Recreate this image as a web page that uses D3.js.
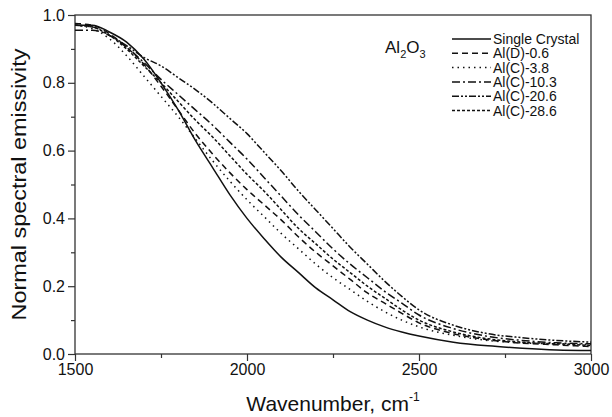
<!DOCTYPE html>
<html>
<head>
<meta charset="utf-8">
<script src="https://cdn.jsdelivr.net/npm/d3@7"></script>
<style>
  body { margin: 0; background: #fff; }
  svg { font-family: "Liberation Sans", Arial, sans-serif; }
</style>
</head>
<body>
<svg id="plot"></svg>
<script>
var wavenumber = [1500, 1550, 1600, 1650, 1700, 1750, 1800, 1850, 1900, 1950, 2000, 2050, 2100, 2150,
                  2200, 2250, 2300, 2350, 2400, 2450, 2500, 2600, 2700, 2800, 2900, 3000];

var singleCrystal = [0.97, 0.97, 0.95, 0.92, 0.87, 0.80, 0.72, 0.63, 0.55, 0.47, 0.40, 0.34, 0.285, 0.24,
                     0.195, 0.16, 0.125, 0.10, 0.08, 0.065, 0.053, 0.035, 0.024, 0.017, 0.012, 0.01];
var alD06 = [0.975, 0.97, 0.945, 0.905, 0.855, 0.79, 0.72, 0.65, 0.59, 0.535, 0.485, 0.44, 0.395, 0.345,
             0.30, 0.26, 0.22, 0.18, 0.15, 0.12, 0.092, 0.06, 0.042, 0.032, 0.027, 0.022];
var alC38 = [0.97, 0.96, 0.93, 0.88, 0.82, 0.76, 0.70, 0.635, 0.57, 0.51, 0.455, 0.405, 0.355, 0.31,
             0.265, 0.225, 0.19, 0.155, 0.125, 0.10, 0.08, 0.055, 0.04, 0.033, 0.03, 0.028];
var alC103 = [0.955, 0.955, 0.94, 0.905, 0.86, 0.81, 0.765, 0.72, 0.675, 0.625, 0.575, 0.52, 0.465, 0.41,
              0.36, 0.31, 0.265, 0.225, 0.185, 0.15, 0.115, 0.075, 0.052, 0.04, 0.033, 0.03];
var alC206 = [0.97, 0.965, 0.94, 0.91, 0.875, 0.85, 0.815, 0.78, 0.74, 0.695, 0.65, 0.595, 0.54, 0.48,
              0.425, 0.37, 0.315, 0.265, 0.215, 0.17, 0.13, 0.085, 0.06, 0.048, 0.04, 0.035];
var alC286 = [0.97, 0.965, 0.94, 0.90, 0.85, 0.80, 0.745, 0.69, 0.64, 0.585, 0.53, 0.48, 0.425, 0.37,
              0.325, 0.28, 0.24, 0.20, 0.165, 0.13, 0.10, 0.065, 0.045, 0.035, 0.03, 0.025];

var seriesNames = ["Single Crystal", "Al(D)-0.6", "Al(C)-3.8", "Al(C)-10.3", "Al(C)-20.6", "Al(C)-28.6"];
var seriesValues = [singleCrystal, alD06, alC38, alC103, alC206, alC286];
var dashes = ["none", "6,4", "1.5,4", "8,3,2,3", "7,2,2,2,2,2", "3,2"];

var xTicks = [1500, 2000, 2500, 3000];
var yTicks = [0.0, 0.2, 0.4, 0.6, 0.8, 1.0];

var width = 612, height = 417
var margins = {left: 75, right: 21, top: 15, bottom: 63}
var innerWidth = width - margins.left - margins.right
var innerHeight = height - margins.top - margins.bottom

var svg = d3.select("svg#plot")
            .attr("width", width)
            .attr("height", height)

var inner = svg.append("g")
               .attr("transform", "translate(" + margins.left + "," + margins.top + ")")

var xScale = d3.scaleLinear().domain([1500, 3000]).range([0, innerWidth]),
    yScale = d3.scaleLinear().domain([0, 1]).range([innerHeight, 0]);

// minor ticks
inner.append("g")
     .attr("transform", "translate(0," + innerHeight + ")")
     .call(d3.axisBottom(xScale).tickValues([1750, 2250, 2750]).tickSize(4).tickFormat(""))
inner.append("g")
     .call(d3.axisLeft(yScale).tickValues([0.1, 0.3, 0.5, 0.7, 0.9]).tickSize(4).tickFormat(""))

var xAxis = inner.append("g")
     .attr("transform", "translate(0," + innerHeight + ")")
     .call(d3.axisBottom(xScale).tickValues(xTicks).tickSize(7).tickPadding(3).tickFormat(d3.format("d")))
xAxis.selectAll("text").attr("font-size", "16px").attr("fill", "#111")

var yAxis = inner.append("g")
     .call(d3.axisLeft(yScale).tickValues(yTicks).tickSize(7).tickPadding(3).tickFormat(d3.format(".1f")))
yAxis.selectAll("text").attr("font-size", "16px").attr("fill", "#111")

inner.selectAll(".domain").remove()
inner.selectAll(".tick line").attr("stroke", "#333").attr("stroke-width", 1.2)

// frame
inner.append("rect")
     .attr("width", innerWidth)
     .attr("height", innerHeight)
     .attr("fill", "none")
     .attr("stroke", "#333")
     .attr("stroke-width", 1.3)

var line = d3.line()
             .x(function(d, i) { return xScale(wavenumber[i]) })
             .y(function(d) { return yScale(d) })
             .curve(d3.curveMonotoneX)

inner.selectAll(".curve")
     .data(seriesValues)
     .enter()
     .append("path")
     .attr("class", "curve")
     .attr("d", line)
     .attr("fill", "none")
     .attr("stroke", "#111")
     .attr("stroke-width", 1.5)
     .attr("stroke-dasharray", function(d, i) { return dashes[i] })

// legend
var legend = svg.append("g").attr("transform", "translate(452,39)")
seriesNames.forEach(function(name, i) {
    legend.append("line")
          .attr("x1", 0).attr("x2", 39)
          .attr("y1", i * 14.3).attr("y2", i * 14.3)
          .attr("stroke", "#111")
          .attr("stroke-width", 1.5)
          .attr("stroke-dasharray", dashes[i])
    legend.append("text")
          .attr("x", 41)
          .attr("y", i * 14.3 + 5)
          .attr("font-size", "14px")
          .attr("fill", "#111")
          .text(name)
})

// compound label
var comp = svg.append("text")
              .attr("x", 385)
              .attr("y", 53)
              .attr("font-size", "17px")
              .attr("fill", "#111")
comp.append("tspan").text("Al")
comp.append("tspan").attr("font-size", "11px").attr("dy", 5).text("2")
comp.append("tspan").attr("dy", -5).text("O")
comp.append("tspan").attr("font-size", "11px").attr("dy", 5).text("3")

// axis titles
svg.append("text")
   .attr("transform", "translate(26," + (margins.top + innerHeight / 2) + ") rotate(-90)")
   .attr("text-anchor", "middle")
   .attr("font-size", "21px")
   .attr("textLength", 272)
   .attr("lengthAdjust", "spacingAndGlyphs")
   .attr("fill", "#111")
   .text("Normal spectral emissivity")

var xt = svg.append("text")
   .attr("x", margins.left + innerWidth / 2)
   .attr("y", 411)
   .attr("text-anchor", "middle")
   .attr("font-size", "21px")
   .attr("fill", "#111")
xt.append("tspan").text("Wavenumber, cm")
xt.append("tspan").attr("font-size", "12px").attr("dy", -10).text("-1")
</script>
</body>
</html>
